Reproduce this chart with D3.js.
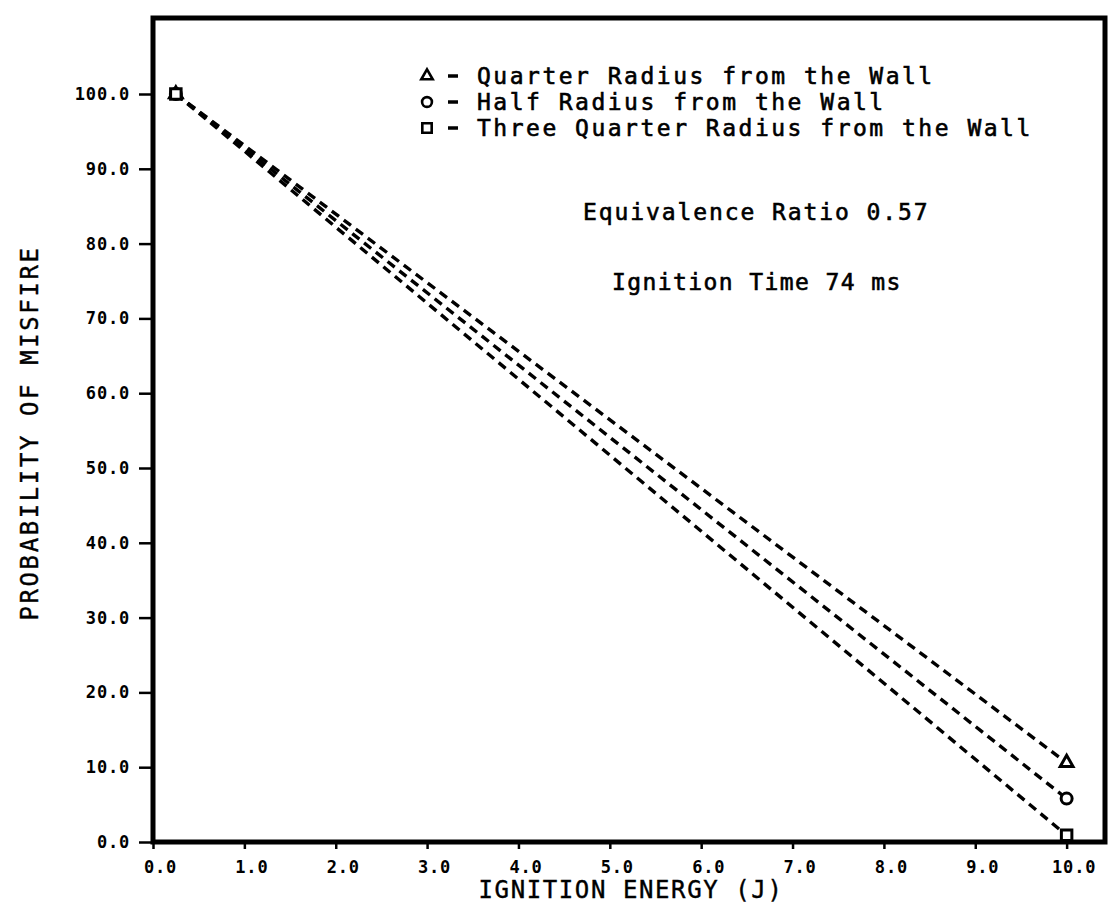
<!DOCTYPE html>
<html>
<head>
  <script src="https://cdnjs.cloudflare.com/ajax/libs/d3/7.8.5/d3.min.js" type="text/javascript"></script>
  <style>
    body { margin: 0; background: #fff; }
    .tick text {
      font-family: "DejaVu Sans Mono", monospace;
      font-weight: bold;
      font-size: 17px;
      letter-spacing: 0.8px;
      fill: #000;
    }
    .tick line { stroke: #000; stroke-width: 2.5px; }
    .title {
      font-family: "DejaVu Sans Mono", monospace;
      font-size: 24px;
      fill: #000;
      stroke: #000;
      stroke-width: 0.4px;
    }
    .note {
      font-family: "DejaVu Sans Mono", monospace;
      font-size: 23px;
      fill: #000;
      stroke: #000;
      stroke-width: 0.6px;
    }
  </style>
</head>
<body>
  <svg id="chart" width="1110" height="913"></svg>
  <script>

// ignition energy (J) at the two measured points
var energy = [0.25, 10.0];
// probability of misfire (%) for each probe position
var quarterRadius = [100.0, 10.6];
var halfRadius = [100.0, 5.8];
var threeQuarterRadius = [100.0, 0.9];

var seriesNames = [
  "Quarter Radius from the Wall",
  "Half Radius from the Wall",
  "Three Quarter Radius from the Wall"
];
var notes = ["Equivalence Ratio 0.57", "Ignition Time 74 ms"];

var xTicks = [0, 1, 2, 3, 4, 5, 6, 7, 8, 9, 10];
var yTicks = [0, 10, 20, 30, 40, 50, 60, 70, 80, 90, 100];

var series = [
  { name: seriesNames[0], values: quarterRadius, symbol: d3.symbolTriangle, size: 70 },
  { name: seriesNames[1], values: halfRadius, symbol: d3.symbolCircle, size: 95 },
  { name: seriesNames[2], values: threeQuarterRadius, symbol: d3.symbolSquare, size: 110 }
];

var svg = d3.select("#chart");

var x = d3.scaleLinear().domain([0, 10.42]).range([153, 1105]);
var y = d3.scaleLinear().domain([0, 110.16]).range([842, 18]);

// axes
var xAxis = svg.append("g")
  .attr("transform", "translate(0," + y(0) + ")")
  .call(d3.axisBottom(x).tickValues(xTicks).tickSize(7).tickPadding(12).tickFormat(d3.format(".1f")));
xAxis.select(".domain").remove();
xAxis.selectAll("text").attr("dx", 7);

var yAxis = svg.append("g")
  .attr("transform", "translate(" + x(0) + ",0)")
  .call(d3.axisLeft(y).tickValues(yTicks).tickSize(14).tickPadding(9).tickFormat(d3.format(".1f")));
yAxis.select(".domain").remove();

// frame
svg.append("rect")
  .attr("x", x(0))
  .attr("y", y(110.16))
  .attr("width", x(10.42) - x(0))
  .attr("height", y(0) - y(110.16))
  .style("fill", "none")
  .style("stroke", "#000")
  .style("stroke-width", 5);

// dashed lines
var line = d3.line()
  .x((d, i) => x(energy[i]))
  .y(d => y(d));

svg.selectAll(".series")
  .data(series)
  .enter()
  .append("path")
  .attr("d", d => line(d.values))
  .style("fill", "none")
  .style("stroke", "#000")
  .style("stroke-width", 3.4)
  .style("stroke-dasharray", "9,6");

// markers
series.forEach(function(s) {
  svg.selectAll(null)
    .data(s.values)
    .enter()
    .append("path")
    .attr("transform", (d, i) => "translate(" + x(energy[i]) + "," + y(d) + ")")
    .attr("d", d3.symbol().type(s.symbol).size(s.size))
    .style("fill", "#fff")
    .style("stroke", "#000")
    .style("stroke-width", 3);
});

// legend
var legend = svg.append("g").attr("transform", "translate(427,0)");
var rows = legend.selectAll("g")
  .data(series)
  .enter()
  .append("g")
  .attr("transform", (d, i) => "translate(0," + (76 + i * 26) + ")");

rows.append("path")
  .attr("d", d => d3.symbol().type(d.symbol).size(d.size * 0.8)())
  .style("fill", "#fff")
  .style("stroke", "#000")
  .style("stroke-width", 2.6);

rows.append("line")
  .attr("x1", 21).attr("x2", 31)
  .attr("y1", 0).attr("y2", 0)
  .style("stroke", "#000")
  .style("stroke-width", 3.5);

rows.append("text")
  .attr("class", "note")
  .attr("x", 50)
  .attr("y", 8)
  .style("letter-spacing", "2.5px")
  .text(d => d.name);

svg.append("text")
  .attr("class", "note")
  .attr("x", 583)
  .attr("y", 220)
  .style("letter-spacing", "1.9px")
  .text(notes[0]);

svg.append("text")
  .attr("class", "note")
  .attr("x", 612)
  .attr("y", 290)
  .style("letter-spacing", "1.4px")
  .text(notes[1]);

// axis titles
svg.append("text")
  .attr("class", "title")
  .attr("x", 631)
  .attr("y", 898)
  .attr("text-anchor", "middle")
  .style("letter-spacing", "1.6px")
  .text("IGNITION ENERGY (J)");

svg.append("text")
  .attr("class", "title")
  .attr("transform", "translate(38,433) rotate(-90)")
  .attr("text-anchor", "middle")
  .style("letter-spacing", "2.6px")
  .text("PROBABILITY OF MISFIRE");

  </script>
</body>
</html>
